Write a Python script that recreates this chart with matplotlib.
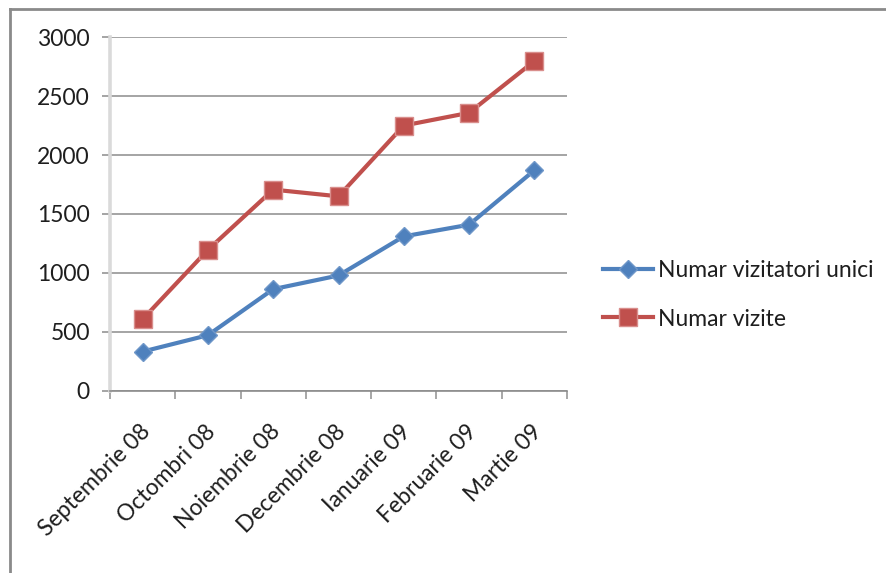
import matplotlib
matplotlib.use("Agg")
import matplotlib.pyplot as plt
import matplotlib.transforms as mtransforms
from matplotlib.lines import Line2D
import numpy as np

plt.rcParams['font.family'] = ['Lato', 'DejaVu Sans']

months = ["Septembrie 08", "Octombri 08", "Noiembrie 08", "Decembrie 08",
          "Ianuarie 09", "Februarie 09", "Martie 09"]
unique_visitors = [332, 471, 862, 978, 1310, 1409, 1871]
visits = [607, 1196, 1707, 1650, 2251, 2359, 2798]
y_ticks = [0, 500, 1000, 1500, 2000, 2500, 3000]

blue = "#4F81BD"
red = "#C0504D"
grid_gray = "#8C8C8C"
text_color = "#1E1E1E"
fs = 16.5

W, H, DPI = 886, 573, 100
fig = plt.figure(figsize=(W / DPI, H / DPI), dpi=DPI)
fig.patch.set_facecolor("white")

# chart frame (top and left edges)
fig.add_artist(Line2D([10 / W, 10 / W], [0, 1 - 9 / H], transform=fig.transFigure,
                      color="#8A8A8A", lw=2.0))
fig.add_artist(Line2D([10 / W, 1], [1 - 9 / H, 1 - 9 / H], transform=fig.transFigure,
                      color="#8A8A8A", lw=2.0))

left, right, top, bottom = 110, 567, 37.3, 390.7
ax = fig.add_axes([left / W, 1 - bottom / H, (right - left) / W, (bottom - top) / H])

x = np.arange(len(months))
ax.plot(x, unique_visitors, color=blue, lw=3.0, marker="D", ms=9.5,
        markerfacecolor=blue, markeredgecolor="#6F97C9", mew=1.0,
        label="Numar vizitatori unici", zorder=4, solid_joinstyle="round")
ax.plot(x, visits, color=red, lw=3.0, marker="s", ms=12.5,
        markerfacecolor=red, markeredgecolor="#D98E8C", mew=1.0,
        label="Numar vizite", zorder=4, solid_joinstyle="round")

ax.set_xlim(-0.5, len(months) - 0.5)
ax.set_ylim(0, 3000)
ax.set_yticks(y_ticks)
ax.set_yticklabels([str(v) for v in y_ticks])
ax.yaxis.grid(True, color=grid_gray, lw=1.1)
ax.set_axisbelow(True)

for s in ("top", "right"):
    ax.spines[s].set_visible(False)
ax.spines["left"].set_color("#DADADA")
ax.spines["left"].set_linewidth(2.6)
ax.spines["bottom"].set_color(grid_gray)
ax.spines["bottom"].set_linewidth(1.2)

ax.tick_params(axis="y", length=5.5, width=1.1, color=grid_gray, pad=9,
               labelsize=fs, labelcolor=text_color)

# category boundaries as minor ticks; labels on the majors
ax.set_xticks(np.arange(-0.5, len(months), 1.0), minor=True)
ax.set_xticks(x)
ax.set_xticklabels(months)
ax.tick_params(axis="x", which="minor", length=5.5, width=1.3, color="#A0A0A0")
ax.tick_params(axis="x", which="major", length=0, pad=27, labelsize=fs,
               labelcolor=text_color)
offset = mtransforms.ScaledTranslation(4 / DPI, 0, fig.dpi_scale_trans)
for lab in ax.get_xticklabels():
    lab.set_rotation(45)
    lab.set_rotation_mode("anchor")
    lab.set_ha("right")
    lab.set_va("center")
    lab.set_transform(lab.get_transform() + offset)

leg = fig.legend(loc="upper left", bbox_to_anchor=(603 / W, 1 - 260 / H),
                 frameon=False, fontsize=fs, handlelength=2.2, handletextpad=0.2,
                 labelspacing=1.2, borderaxespad=0, borderpad=0,
                 labelcolor=text_color, markerscale=1.0)

fig.savefig("out.png", dpi=DPI, facecolor="white")
